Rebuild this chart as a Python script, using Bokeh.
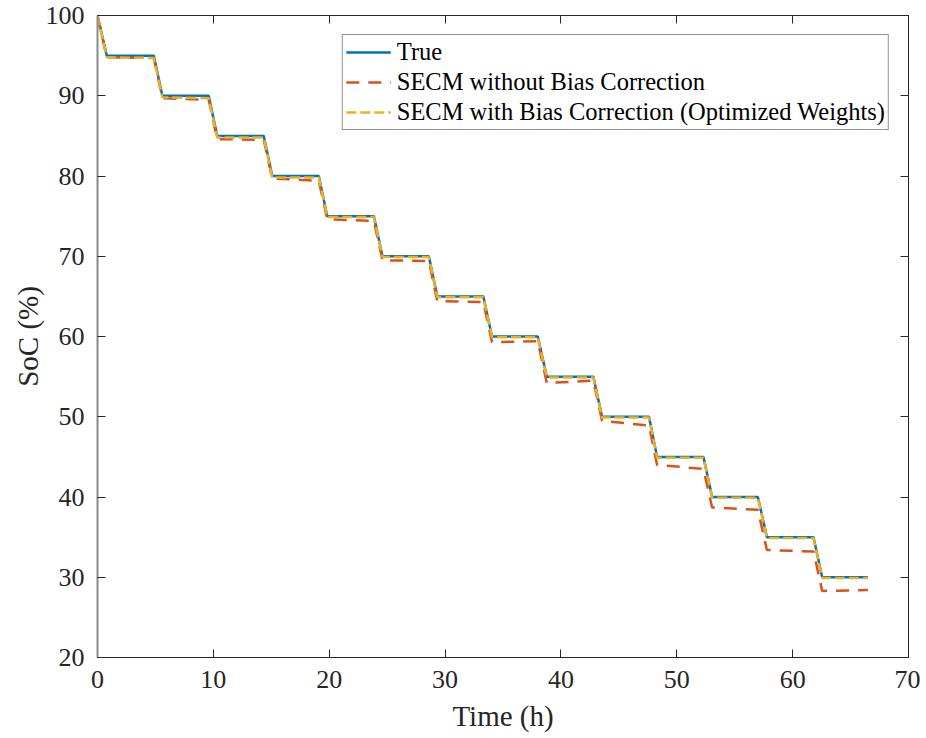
from bokeh.plotting import figure
from bokeh.models import (LinearAxis, SingleIntervalTicker, Range1d, Legend, LegendItem,
                          CustomJSTickFormatter)
from bokeh.embed import file_html
from bokeh.resources import INLINE

# ---- data ----
time_h = [0.0, 0.80, 4.86, 5.60, 9.60, 10.33, 14.35, 15.08, 19.10, 19.83,
          23.85, 24.60, 28.60, 29.33, 33.30, 34.05, 38.00, 38.78, 42.80, 43.55,
          47.60, 48.30, 52.30, 53.05, 57.00, 57.78, 61.80, 62.55, 66.50]
soc_true = [100, 95, 95, 90, 90, 85, 85, 80, 80, 75, 75, 70, 70, 65, 65, 60,
            60, 55, 55, 50, 50, 45, 45, 40, 40, 35, 35, 30, 30]
soc_no_bias = [100, 94.8, 94.7, 89.7, 89.5, 84.6, 84.5, 79.7, 79.4, 74.6, 74.4,
               69.5, 69.4, 64.4, 64.3, 59.3, 59.4, 54.2, 54.5, 49.5, 48.9,
               44.0, 43.5, 38.7, 38.4, 33.4, 33.2, 28.3, 28.4]
soc_bias_corr = [100, 94.8, 94.7, 89.8, 89.7, 84.8, 84.8, 79.8, 79.8, 74.9, 74.9,
                 69.9, 69.9, 64.9, 64.9, 59.9, 59.9, 54.9, 54.9, 49.9, 49.9,
                 44.9, 44.9, 39.9, 39.9, 34.9, 34.9, 29.9, 29.9]
labels = ["True", "SECM without Bias Correction",
          "SECM with Bias Correction (Optimized Weights)"]
x_label = "Time (h)"
y_label = "SoC (%)"

FONT = "Liberation Serif"
TXT = "#262626"
BLUE, RED, YELLOW = "#0072BD", "#D95319", "#EDB120"

p = figure(width=920, height=735, output_backend="svg",
           toolbar_location=None, x_range=Range1d(0, 70), y_range=Range1d(20, 100),
           min_border_left=97, min_border_top=15, min_border_right=12, min_border_bottom=78)
p.background_fill_color = "white"
p.border_fill_color = "white"
p.outline_line_color = TXT
p.outline_line_width = 1
p.xgrid.visible = False
p.ygrid.visible = False

r_true = p.line(time_h, soc_true, line_color=BLUE, line_width=2.5)
r_nb = p.line(time_h, soc_no_bias, line_color=RED, line_width=2.5, line_dash="13 9")
r_bc = p.line(time_h, soc_bias_corr, line_color=YELLOW, line_width=2.5, line_dash="10 4")

def style_axis(ax, show_labels=True):
    ax.ticker = SingleIntervalTicker(interval=10)
    ax.minor_tick_line_color = None
    ax.major_tick_in = 8
    ax.major_tick_out = 0
    ax.major_tick_line_color = TXT
    ax.axis_line_color = TXT
    ax.major_label_text_font = FONT
    ax.major_label_text_color = TXT
    ax.major_label_text_font_size = "26px"
    ax.axis_label_text_font = FONT
    ax.axis_label_text_font_size = "29px"
    ax.axis_label_text_font_style = "normal"
    ax.axis_label_text_color = TXT
    if not show_labels:
        ax.formatter = CustomJSTickFormatter(code="return '';")
        ax.major_label_standoff = 0
        ax.axis_label = None

xa = p.xaxis[0]
ya = p.yaxis[0]
style_axis(xa)
style_axis(ya)
xa.axis_label = x_label
ya.axis_label = y_label
xa.major_label_standoff = 9
xa.axis_label_standoff = 9
ya.major_label_standoff = 9
ya.axis_label_standoff = -1
ya.axis_line_color = "#8a8a8a"
ya.axis_line_width = 2

top = LinearAxis()
style_axis(top, False)
right = LinearAxis()
style_axis(right, False)
p.add_layout(top, "above")
p.add_layout(right, "right")

legend = Legend(items=[LegendItem(label=labels[0], renderers=[r_true]),
                       LegendItem(label=labels[1], renderers=[r_nb]),
                       LegendItem(label=labels[2], renderers=[r_bc])],
                location="top_right")
legend.margin = 19
legend.padding = 3
legend.spacing = 2
legend.glyph_width = 45
legend.glyph_height = 28
legend.label_standoff = 6
legend.label_text_font = FONT
legend.label_text_font_size = "24.5px"
legend.label_text_color = "black"
legend.border_line_color = TXT
legend.border_line_width = 1
legend.background_fill_alpha = 1
p.add_layout(legend, "center")

open("out.html", "w").write(file_html(p, INLINE))
